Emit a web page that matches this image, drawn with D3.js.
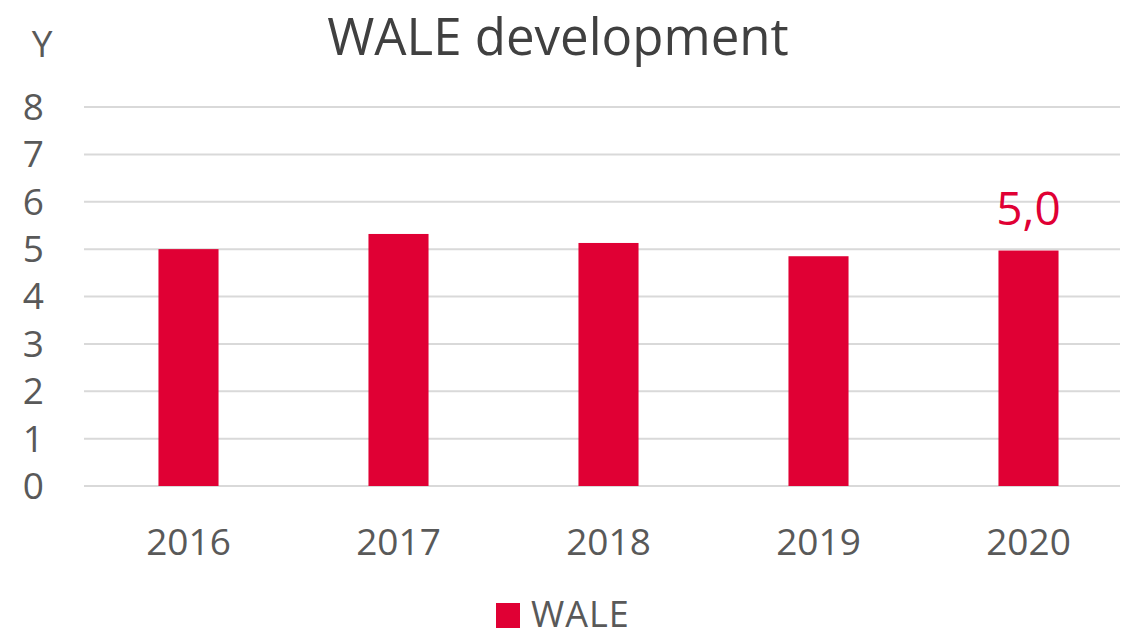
<!DOCTYPE html>
<html>
<head>
<meta charset="utf-8">
<script src="https://cdn.jsdelivr.net/npm/d3@7"></script>
<style>
  body { margin: 0; background: #fff; }
  text { font-family: "Open Sans", sans-serif; }
</style>
</head>
<body>
<div id="chart"></div>
<script>
// data
const years = ['2016', '2017', '2018', '2019', '2020']
const wale = [5.0, 5.32, 5.13, 4.85, 4.97]
const yTicks = [0, 1, 2, 3, 4, 5, 6, 7, 8]
const labelIndex = 4
const labelText = '5,0'

const width = 1123, height = 634
const barColor = '#e00034'

const svg = d3.select('#chart')
    .append('svg')
        .attr('width', width)
        .attr('height', height)

const x = d3.scaleBand()
    .domain(years)
    .range([83.5, 1133.5])
    .paddingInner(0.714)
    .paddingOuter(0.357)

const y = d3.scaleLinear()
    .domain([0, 8])
    .range([486, 107])

// gridlines
svg.append('g')
    .selectAll('line')
    .data(yTicks)
    .join('line')
        .attr('x1', 84)
        .attr('x2', 1120)
        .attr('y1', d => y(d))
        .attr('y2', d => y(d))
        .attr('stroke', '#d9d9d9')
        .attr('stroke-width', 2)

// y axis labels
svg.append('g')
    .selectAll('text')
    .data(yTicks)
    .join('text')
        .attr('x', 44)
        .attr('y', d => y(d))
        .attr('dy', '0.35em')
        .attr('text-anchor', 'end')
        .attr('fill', '#595959')
        .attr('font-size', 37)
        .text(d => d)

// bars
svg.append('g')
    .selectAll('rect')
    .data(wale)
    .join('rect')
        .attr('x', (d, i) => x(years[i]))
        .attr('y', d => y(d))
        .attr('width', x.bandwidth())
        .attr('height', d => y(0) - y(d))
        .attr('fill', barColor)

// x axis labels
svg.append('g')
    .selectAll('text')
    .data(years)
    .join('text')
        .attr('x', d => x(d) + x.bandwidth() / 2)
        .attr('y', 555)
        .attr('text-anchor', 'middle')
        .attr('fill', '#595959')
        .attr('font-size', 37)
        .text(d => d)

// data label on last bar
svg.append('text')
    .attr('x', x(years[labelIndex]) + x.bandwidth() / 2)
    .attr('y', y(wale[labelIndex]) - 26)
    .attr('text-anchor', 'middle')
    .attr('fill', barColor)
    .attr('font-size', 46)
    .text(labelText)

// title
svg.append('text')
    .attr('x', 558)
    .attr('y', 55)
    .attr('text-anchor', 'middle')
    .attr('fill', '#404040')
    .attr('font-size', 51)
    .text('WALE development')

// axis unit
svg.append('text')
    .attr('x', 42)
    .attr('y', 57)
    .attr('text-anchor', 'middle')
    .attr('fill', '#595959')
    .attr('font-size', 37)
    .text('Y')

// legend
const legend = svg.append('g')
legend.append('rect')
    .attr('x', 496)
    .attr('y', 603)
    .attr('width', 24)
    .attr('height', 25)
    .attr('fill', barColor)
legend.append('text')
    .attr('x', 531)
    .attr('y', 627)
    .attr('fill', '#595959')
    .attr('font-size', 36)
    .attr('letter-spacing', 1)
    .text('WALE')
</script>
</body>
</html>
